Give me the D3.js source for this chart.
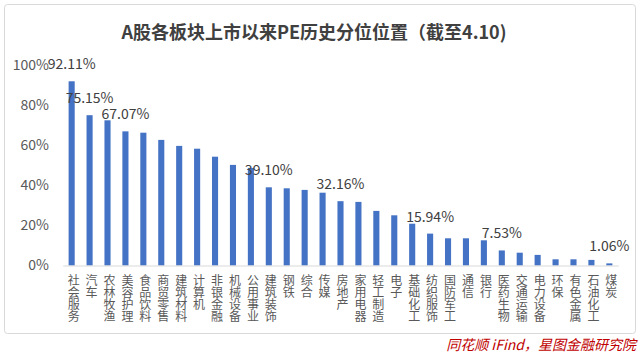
<!DOCTYPE html>
<html><head><meta charset="utf-8">
<script src="https://cdn.jsdelivr.net/npm/d3@7"></script>
<style>
html,body{margin:0;padding:0;background:#fff;}
svg{display:block;font-family:"Noto Sans CJK SC","Noto Sans",sans-serif;}
</style></head><body>
<svg id="chart" width="640" height="356"></svg>
<script>
const categories = ["社会服务","汽车","农林牧渔","美容护理","食品饮料","商贸零售","建筑材料","计算机","非银金融","机械设备","公用事业","建筑装饰","钢铁","综合","传媒","房地产","家用电器","轻工制造","电子","基础化工","纺织服饰","国防军工","通信","银行","医药生物","交通运输","电力设备","环保","有色金属","石油化工","煤炭"];
const values = [92.11,75.15,72.6,67.07,66.4,62.8,59.8,58.4,54.4,50.3,48.8,39.10,38.6,37.8,36.4,32.16,31.8,27.3,25.1,20.9,15.94,13.6,13.6,12.6,7.53,6.4,5.3,3.1,3.1,2.8,1.06];
const labelled = ["社会服务","汽车","美容护理","建筑装饰","房地产","纺织服饰","医药生物","煤炭"];
const yTicks = [0,20,40,60,80,100];
const title = "A股各板块上市以来PE历史分位位置（截至4.10)";
const source = "同花顺 iFind，星图金融研究院";

const svg = d3.select("#chart");
svg.append("rect").attr("x",4.5).attr("y",4.5).attr("width",631).attr("height",329)
  .attr("rx",3).attr("fill","#fff").attr("stroke","#d9d9d9");

svg.append("text").attr("x",314).attr("y",39).attr("text-anchor","middle")
  .attr("font-size",18).attr("font-weight","bold").attr("fill","#404040").text(title);

const x = d3.scaleBand().domain(categories).range([62.7,618.3]).paddingInner(0.66).paddingOuter(0.33);
const y = d3.scaleLinear().domain([0,100]).range([265.5,65.5]);

const yAxis = svg.append("g").attr("transform","translate(52,0)")
  .call(d3.axisLeft(y).tickValues(yTicks).tickSize(0).tickPadding(0).tickFormat(d=>d+"%"));
yAxis.select(".domain").remove();
yAxis.selectAll("text").attr("font-size",14).attr("fill","#595959").attr("font-family","'Noto Sans CJK SC',sans-serif").attr("dx",-3);

svg.append("g").selectAll("rect").data(categories).join("rect")
  .attr("x",d=>x(d)).attr("width",x.bandwidth())
  .attr("y",(d,i)=>y(values[i])).attr("height",(d,i)=>y(0)-y(values[i]))
  .attr("fill","#4472c4");

const xAxis = svg.append("g").attr("transform",`translate(0,${y(0)})`)
  .call(d3.axisBottom(x).tickSize(0).tickPadding(0));
xAxis.select(".domain").attr("stroke","#d9d9d9");
xAxis.selectAll("text").remove();
const tl = xAxis.selectAll(".tick").append("text")
  .attr("fill","#595959").attr("font-size",12)
  .attr("font-family","'Noto Sans CJK SC',sans-serif")
  .attr("text-anchor","middle");
tl.selectAll("tspan").data(d=>Array.from(d)).join("tspan")
  .attr("x",2).attr("y",(c,i)=>19+i*12.2).text(c=>c);

svg.append("g").selectAll("text").data(categories.filter(c=>labelled.includes(c))).join("text")
  .attr("x",d=>x(d)+x.bandwidth()/2)
  .attr("y",d=>y(values[categories.indexOf(d)])-12)
  .attr("text-anchor","middle").attr("font-size",14).attr("fill","#404040")
  .text(d=>values[categories.indexOf(d)].toFixed(2)+"%");

svg.append("text").attr("x",636).attr("y",350).attr("text-anchor","end")
  .attr("font-size",14).attr("font-style","italic").attr("fill","#c00000").text(source);
</script></body></html>
